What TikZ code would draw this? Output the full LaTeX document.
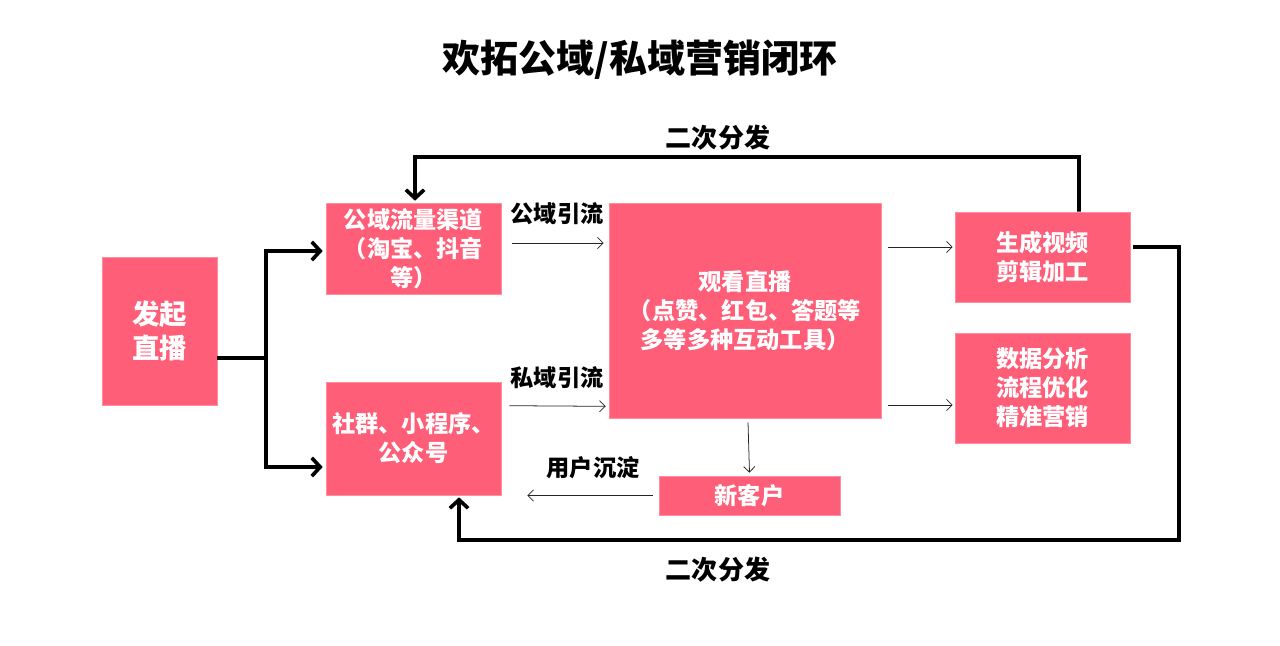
\documentclass[tikz,border=0pt]{standalone}
\usepackage{fontspec}
\setmainfont{Noto Sans CJK SC}
\usepackage[HTML]{xcolor}
\usetikzlibrary{positioning, calc, arrows.meta}

\definecolor{boxpink}{HTML}{FF5E78}

\begin{document}
\begin{tikzpicture}[x=0.025cm, y=-0.025cm,
  box/.style={fill=boxpink, draw=boxpink!70!white, line width=0.4pt, text=white, align=center,
    inner sep=0pt, font=\fontsize{16.5}{20.6}\selectfont\bfseries},
  lbl/.style={font=\fontsize{16.5}{20}\selectfont\bfseries},
  flow/.style={-{Straight Barb[length=4pt, width=8pt]}, line width=0.55pt, black!85},
  loopline/.style={-{Straight Barb[length=6pt, width=13pt]}, line width=2.6pt, line join=miter}]

\useasboundingbox (0,0) rectangle (1280,645);

% --- Title ---
\node[font=\fontsize{27}{32}\selectfont\bfseries] (title) at (640,60) {欢拓公域/私域营销闭环};

% --- Boxes ---
\node[box, minimum width=2.875cm, minimum height=3.7cm,
  font=\fontsize{19.5}{24.2}\selectfont\bfseries] (start) at (159.5,331) {发起\\直播};
\node[box, minimum width=4.375cm, minimum height=2.275cm] (pub) at (413.5,248.5) {公域流量渠道\\（淘宝、抖音\\等）};
\node[box, minimum width=4.375cm, minimum height=2.825cm] (priv) at (413.5,438.5) {社群、小程序、\\公众号};
\node[box, minimum width=6.8cm, minimum height=5.375cm] (live) at (745,310.5) {观看直播\\（点赞、红包、答题等\\多等多种互动工具）};
\node[box, minimum width=4.375cm, minimum height=2.25cm] (video) at (1042.5,257) {生成视频\\剪辑加工};
\node[box, minimum width=4.375cm, minimum height=2.75cm] (data) at (1042.5,388) {数据分析\\流程优化\\精准营销};
\node[box, minimum width=4.525cm, minimum height=0.975cm] (newc) at (749.5,495.5) {新客户};

% --- Fork from start ---
\coordinate (fork) at (266,358);
\draw[line width=2.6pt] (start.east |- fork) -- (fork);
\draw[loopline] (fork) |- ($(pub.west)+(-3,2.5)$);
\draw[loopline] (fork) |- ($(priv.west)+(-3,28.5)$);

% --- Thin flows ---
\draw[flow] ($(pub.east)+(11,-5.5)$) -- ($(live.west |- pub.east)+(-5,-5.5)$);
\draw[flow] ($(priv.north east)+(8,24)$) -- ($(live.south west)+(-3,-12)$);
\draw[flow] ($(live.east |- video.west)+(7,-10)$) -- ($(video.west)+(-2,-10)$);
\draw[flow] ($(live.east |- data.west)+(7,17)$) -- ($(data.west)+(-2,17)$);
\draw[flow] ($(live.south)+(3,4)$) -- ($(newc.north)+(0,-3)$);
\draw[flow] ($(newc.west)+(-6,0)$) -- ($(priv.east |- newc.west)+(26,0)$);

\node[lbl] (l1) at (557,214) {公域引流};
\node[lbl] (l2) at (557,378) {私域引流};
\node[lbl] (l3) at (593,468) {用户沉淀};

% --- Redistribution loops ---
\draw[loopline] ($(video.north)+(36.5,0)$) |- (415,157) -- ($(pub.north)+(1.5,-2)$);
\draw[loopline] ($(video.east)+(3,-10)$) -| (1179,540) -| ($(priv.south)+(45.5,2)$);

\node[font=\fontsize{18.5}{22}\selectfont\bfseries] (re1) at (718,138) {二次分发};
\node[font=\fontsize{18.5}{22}\selectfont\bfseries] (re2) at (718,570) {二次分发};

\end{tikzpicture}
\end{document}
